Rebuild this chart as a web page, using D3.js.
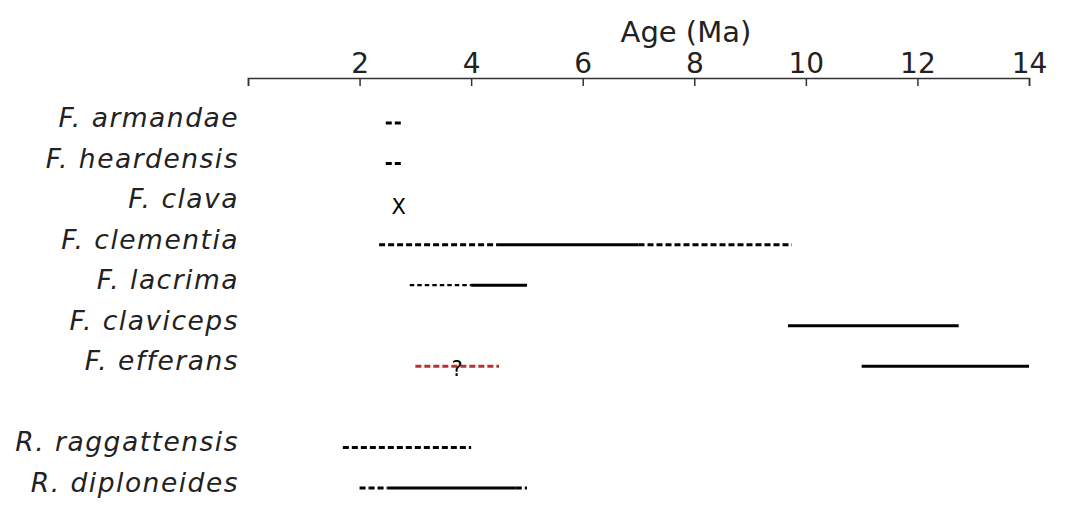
<!DOCTYPE html>
<html lang="en">
<head>
<meta charset="utf-8"/>
<script src="https://d3js.org/d3.v7.min.js"></script>
<style>
    body { margin: 0; background: #fff; }
    text { font-family: "DejaVu Sans", Verdana, sans-serif; fill: #222; }
    .axis text { font-size: 28px; }
    .axis path, .axis line { stroke: #333; stroke-width: 1.5; }
    .label { font-size: 26.5px; font-style: italic; letter-spacing: 1.5px; }
</style>
</head>
<body>
<script>
    // Rows (top to bottom), "" is a spacer row
    var species = ["F. armandae", "F. heardensis", "F. clava", "F. clementia", "F. lacrima",
                   "F. claviceps", "F. efferans", "", "R. raggattensis", "R. diploneides"];

    // Age ranges in Ma: [species, from, to, kind]
    var ranges = [
        ["F. armandae", 2.47, 2.74, "dashed"],
        ["F. heardensis", 2.47, 2.74, "dashed"],
        ["F. clementia", 2.35, 4.5, "dashed"],
        ["F. clementia", 4.5, 7.0, "solid"],
        ["F. clementia", 7.0, 9.75, "dashed"],
        ["F. lacrima", 2.9, 4.0, "thin"],
        ["F. lacrima", 4.0, 5.0, "solid"],
        ["F. claviceps", 9.68, 12.74, "solid"],
        ["F. efferans", 11.0, 14.0, "solid"],
        ["F. efferans", 3.0, 4.5, "doubtful"],
        ["R. raggattensis", 1.7, 4.0, "dashed"],
        ["R. diploneides", 2.0, 2.5, "dashed"],
        ["R. diploneides", 2.5, 4.8, "solid"],
        ["R. diploneides", 4.8, 5.0, "dashed"]
    ];

    // Text markers: [species, age, symbol]
    var markers = [
        ["F. clava", 2.7, "X"],
        ["F. efferans", 3.75, "?"]
    ];

    var tickValues = [0, 2, 4, 6, 8, 10, 12, 14];

    var width = 1068, height = 516;

    var svg = d3.select("body").append("svg")
        .attr("width", width)
        .attr("height", height);

    var x = d3.scaleLinear().domain([0, 14]).range([248, 1029]);
    var y = d3.scalePoint().domain(species).range([123, 488]);

    // axis on top, ticks pointing down
    var axis = svg.append("g")
        .attr("class", "axis")
        .attr("transform", "translate(0,78)")
        .call(d3.axisTop(x)
            .tickValues(tickValues)
            .tickFormat(function(d) { return d === 0 ? "" : d; })
            .tickSizeInner(-8)
            .tickSizeOuter(-8)
            .tickPadding(5));
    axis.selectAll("text").attr("fill", "#222");

    svg.append("text")
        .attr("x", x(7.85))
        .attr("y", 42)
        .attr("text-anchor", "middle")
        .style("font-size", "29px")
        .text("Age (Ma)");

    // species labels
    svg.selectAll(".label")
        .data(species.filter(function(d) { return d !== ""; }))
        .enter()
        .append("text")
        .attr("class", "label")
        .attr("x", 239)
        .attr("y", function(d) { return y(d) + 4; })
        .attr("text-anchor", "end")
        .text(function(d) { return d; });

    function strokeColor(d) { return d[3] === "doubtful" ? "#b83232" : "#000"; }
    function strokeWidth(d) { return d[3] === "thin" ? 2.2 : 3; }
    function dash(d) {
        if (d[3] === "solid") return null;
        if (d[3] === "thin") return "4.5,3";
        return "6,3";
    }

    svg.selectAll(".range")
        .data(ranges)
        .enter()
        .append("line")
        .attr("class", "range")
        .attr("x1", function(d) { return x(d[1]); })
        .attr("x2", function(d) { return x(d[2]); })
        .attr("y1", function(d) { return y(d[0]); })
        .attr("y2", function(d) { return y(d[0]); })
        .style("stroke", strokeColor)
        .style("stroke-width", strokeWidth)
        .style("stroke-dasharray", dash);

    svg.selectAll(".marker")
        .data(markers)
        .enter()
        .append("text")
        .attr("class", "marker")
        .attr("x", function(d) { return x(d[1]); })
        .attr("y", function(d) { return y(d[0]) + 10; })
        .attr("text-anchor", "middle")
        .style("font-size", "21px")
        .style("fill", "#000")
        .text(function(d) { return d[2]; });
</script>
</body>
</html>
